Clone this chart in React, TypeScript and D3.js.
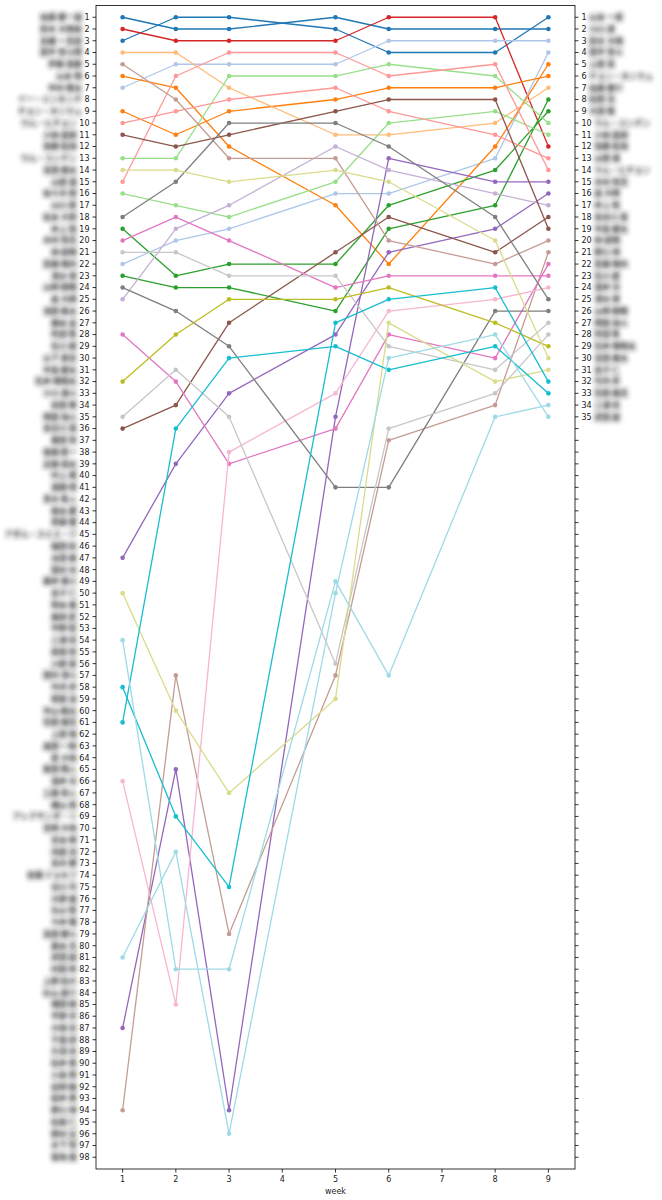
import React, { useEffect, useRef } from 'react';
import * as d3 from 'd3';

// weeks that have a ranking (4 and 7 are missing)
const WEEKS = [1, 2, 3, 5, 6, 8, 9];
const X_TICKS = [1, 2, 3, 4, 5, 6, 7, 8, 9];
const MAX_RANK = 98;
const RIGHT_COUNT = 35;

const TAB20 = [
  '#1f77b4', '#aec7e8', '#ff7f0e', '#ffbb78', '#2ca02c', '#98df8a', '#d62728', '#ff9896',
  '#9467bd', '#c5b0d5', '#8c564b', '#c49c94', '#e377c2', '#f7b6d2', '#7f7f7f', '#c7c7c7',
  '#bcbd22', '#dbdb8d', '#17becf', '#9edae5',
];

// colour index (tab20) of each series
const SERIES_COLOR = [
  0, 0, 6, 1, 1, 2, 2, 3, 4, 4, 5, 5, 7, 7, 8, 8, 9, 10,
  10, 11, 11, 12, 12, 13, 14, 14, 15, 15, 16, 17, 17, 18, 18, 19, 19,
];

// rank per week for each series, in WEEKS order
const SERIES_RANKS = [
  [1, 2, 2, 1, 2, 2, 2],
  [3, 1, 1, 2, 4, 4, 1],
  [2, 3, 3, 3, 1, 1, 12],
  [7, 5, 5, 5, 3, 3, 3],
  [22, 20, 19, 16, 16, 13, 4],
  [6, 7, 12, 17, 22, 12, 5],
  [9, 11, 9, 8, 7, 7, 6],
  [4, 4, 7, 11, 11, 10, 7],
  [23, 24, 24, 26, 19, 17, 8],
  [19, 23, 22, 22, 17, 14, 9],
  [13, 13, 6, 6, 5, 6, 10],
  [16, 17, 18, 15, 10, 9, 11],
  [10, 9, 8, 7, 9, 11, 13],
  [15, 6, 4, 4, 6, 5, 14],
  [87, 65, 94, 35, 13, 15, 15],
  [47, 39, 33, 28, 21, 19, 16],
  [25, 19, 17, 12, 14, 16, 17],
  [36, 34, 27, 21, 18, 21, 18],
  [11, 12, 11, 9, 8, 8, 19],
  [5, 8, 13, 13, 20, 22, 20],
  [94, 57, 79, 57, 37, 34, 21],
  [28, 32, 39, 36, 28, 30, 22],
  [20, 18, 20, 24, 23, 23, 23],
  [66, 85, 38, 33, 26, 25, 24],
  [18, 15, 10, 10, 12, 18, 25],
  [24, 26, 29, 41, 41, 26, 26],
  [21, 21, 23, 23, 29, 31, 27],
  [35, 31, 35, 56, 36, 33, 28],
  [32, 28, 25, 25, 24, 27, 29],
  [14, 14, 15, 14, 15, 20, 30],
  [50, 60, 67, 59, 27, 32, 31],
  [58, 69, 75, 27, 25, 24, 32],
  [61, 36, 30, 29, 31, 29, 33],
  [54, 82, 82, 49, 57, 35, 34],
  [81, 72, 96, 50, 30, 28, 35],
];

// names (rendered blurred, as in the reference)
const LEFT_NAMES = [
  '佐藤 健一選', '鈴木 大翔栄', '高橋 一真収', '田中 悠斗問', '伊藤 蓮愛', '山本 翔', '中村 陽太', 'イー・ミンセンチ',
  'チョン・ホンウェ', 'ウム・ヒチョン', '小林 直樹', '加藤 拓海', 'ウム・ユンデン', '吉田 颯太', '山田 湊', '佐々木 樹',
  '山口 蒼', '松本 大和', '井上 陸', '木村 悠真', '林 結翔', '斎藤 陽向', '清水 律', '山崎 朝陽',
  '森 大輝', '池田 奏太', '橋本 岳', '阿部 隼', '石川 碧', '山下 蒼空', '中島 健太', '石井 陽翔太',
  '小川 湊斗', '前田 翼', '岡田 海斗', '長谷川 蓮', '藤田 悠', '後藤 新一', '近藤 瑛太', '村上 颯',
  '遠藤 晴', '青木 隼人', '坂本 慶', '斉藤 響', 'アダム・スミス・ジ', '福田 航', '太田 奏', '西村 光',
  '藤井 優斗', '金子 仁', '岡本 楓', '藤原 匠', '中野 聡', '三浦 亮', '原田 啓', '小野 蒼',
  '田村 湧斗', '竹内 歩', '和田 凌', '中山 瞬太', '石田 颯真', '上田 嶺', '森田 一樹', '原 大地',
  '柴田 陽人', '酒井 涼', '工藤 悠人', '横山 晃', 'アレクサンダ・リ', '宮崎 大地', '宮本 輝', '内田 洸',
  '高木 健', '安藤 ジョセフ', '谷口 司', '大野 颯', '丸山 智', '今井 雅', '高田 健斗', '藤本 真',
  '武田 誠', '村田 秀', '上野 航大', '杉山 蒼介', '増田 剛', '平野 学', '大塚 崇', '千葉 研',
  '久保 尚', '松井 豊', '小島 賢', '岩崎 徹', '桜井 勇', '野口 博', '松尾 仁', '野村 亘',
  '木下 悟', '菊地 進',
];

const RIGHT_NAMES = [
  '山本 一成', '川口 達', '鈴木 大翔', '田中 悠斗', '上田 実', 'チョン・ホンウェ', '佐藤 健介', '松田 浩',
  '大田 隆', 'ウム・ユンデン', '小林 直樹', '加藤 拓海', '山田 湊', 'ウム・ヒチョン', '木村 悠真', '森 大輝',
  '井上 陸', '長谷川 蓮', '中島 健太', '林 結翔', '野口 博', '斎藤 陽向', '石川 碧', '酒井 涼',
  '清水 律', '山崎 朝陽', '岡田 海斗', '阿部 隼', '石井 陽翔太', '吉田 颯太', '金子 仁', '竹内 歩',
  '石田 颯真', '三浦 亮', '武田 誠',
];

const W = 662;
const H = 1200;

const App: React.FC = () => {
  const svgRef = useRef<SVGSVGElement>(null);

  useEffect(() => {
    if (!svgRef.current) return;
    document.body.style.margin = '0';

    const svg = d3.select(svgRef.current);
    svg.selectAll('*').remove();

    const left = 96, right = 575, top = 5.5, bottom = 1169;
    const numFont = 'DejaVu Sans, sans-serif';
    const nameFont = '"Noto Sans CJK JP", sans-serif';
    const fs = 8;

    const x = d3.scaleLinear().domain([0.5, 9.5]).range([left, right]);
    const y = d3.scaleLinear().domain([0, MAX_RANK + 1]).range([top, bottom]);

    const defs = svg.append('defs');
    defs.append('filter')
      .attr('id', 'blur')
      .attr('filterUnits', 'userSpaceOnUse')
      .attr('x', 0).attr('y', 0)
      .attr('width', W).attr('height', H)
      .append('feGaussianBlur')
      .attr('stdDeviation', 2.4);

    const ranks = d3.range(1, MAX_RANK + 1);

    // left axis ticks + labels
    const gl = svg.append('g');
    ranks.forEach((r) => {
      gl.append('line')
        .attr('x1', left - 3.5).attr('x2', left)
        .attr('y1', y(r)).attr('y2', y(r))
        .attr('stroke', '#000').attr('stroke-width', 0.8);
      const num = gl.append('text')
        .attr('x', left - 6.5).attr('y', y(r)).attr('dy', '0.36em')
        .attr('text-anchor', 'end')
        .attr('font-family', numFont).attr('font-size', fs)
        .attr('fill', '#222')
        .text(String(r));
      const w = (num.node() as SVGTextElement).getComputedTextLength();
      gl.append('text')
        .attr('x', left - 6.5 - w - 2.5).attr('y', y(r)).attr('dy', '0.36em')
        .attr('text-anchor', 'end')
        .attr('font-family', nameFont).attr('font-size', fs)
        .attr('font-weight', 'bold')
        .attr('fill', '#222')
        .attr('filter', 'url(#blur)')
        .text(LEFT_NAMES[r - 1] ?? '');
    });

    // right axis ticks + labels
    const gr = svg.append('g');
    ranks.forEach((r) => {
      gr.append('line')
        .attr('x1', right).attr('x2', right + 3.5)
        .attr('y1', y(r)).attr('y2', y(r))
        .attr('stroke', '#000').attr('stroke-width', 0.8);
      if (r > RIGHT_COUNT) return;
      const num = gr.append('text')
        .attr('x', right + 6.5).attr('y', y(r)).attr('dy', '0.36em')
        .attr('text-anchor', 'start')
        .attr('font-family', numFont).attr('font-size', fs)
        .attr('fill', '#222')
        .text(String(r));
      const w = (num.node() as SVGTextElement).getComputedTextLength();
      gr.append('text')
        .attr('x', right + 6.5 + w + 2.5).attr('y', y(r)).attr('dy', '0.36em')
        .attr('text-anchor', 'start')
        .attr('font-family', nameFont).attr('font-size', fs)
        .attr('font-weight', 'bold')
        .attr('fill', '#222')
        .attr('filter', 'url(#blur)')
        .text(RIGHT_NAMES[r - 1]);
    });

    // bottom axis
    const gx = svg.append('g');
    X_TICKS.forEach((t) => {
      gx.append('line')
        .attr('x1', x(t)).attr('x2', x(t))
        .attr('y1', bottom).attr('y2', bottom + 3.5)
        .attr('stroke', '#000').attr('stroke-width', 0.8);
      gx.append('text')
        .attr('x', x(t)).attr('y', bottom + 12.5)
        .attr('text-anchor', 'middle')
        .attr('font-family', numFont).attr('font-size', fs)
        .attr('fill', '#222')
        .text(String(t));
    });
    svg.append('text')
      .attr('x', (left + right) / 2).attr('y', bottom + 24.5)
      .attr('text-anchor', 'middle')
      .attr('font-family', numFont).attr('font-size', fs)
      .attr('fill', '#222')
      .text('week');

    // series
    const line = d3.line<number>()
      .x((_, i) => x(WEEKS[i]))
      .y((d) => y(d));

    SERIES_RANKS.forEach((vals, si) => {
      const color = TAB20[SERIES_COLOR[si]];
      const g = svg.append('g');
      g.append('path')
        .attr('d', line(vals) as string)
        .attr('fill', 'none')
        .attr('stroke', color)
        .attr('stroke-width', 1.3)
        .attr('stroke-linejoin', 'round');
      g.selectAll('circle')
        .data(vals)
        .join('circle')
        .attr('cx', (_, i) => x(WEEKS[i]))
        .attr('cy', (d) => y(d))
        .attr('r', 2.3)
        .attr('fill', color);
    });

    // frame
    svg.append('rect')
      .attr('x', left).attr('y', top)
      .attr('width', right - left).attr('height', bottom - top)
      .attr('fill', 'none')
      .attr('stroke', '#000')
      .attr('stroke-width', 0.8);
  }, []);

  return <svg ref={svgRef} width={W} height={H} style={{ display: 'block', background: '#fff' }} />;
};

export default App;
